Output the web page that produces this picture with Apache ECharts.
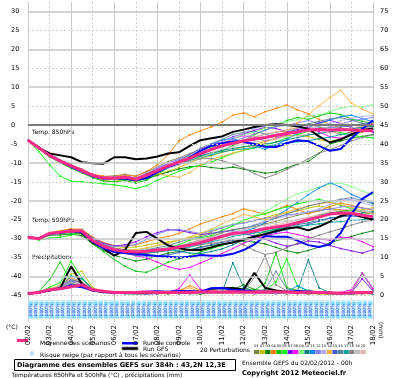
<!DOCTYPE html>
<html><head><meta charset="utf-8">
<script src="https://cdn.jsdelivr.net/npm/echarts@6/dist/echarts.min.js"></script>
<style>html,body{margin:0;padding:0;background:#fff}#c{width:400px;height:378px}</style>
</head><body><div id="c"></div>
<script>
const hours = [0,12,24,36,48,60,72,84,96,108,120,132,144,156,168,180,192,204,216,228,240,252,264,276,288,300,312,324,336,348,360,372,384];
const dayLabels = ['02/02','03/02','04/02','05/02','06/02','07/02','08/02','09/02','10/02','11/02','12/02','13/02','14/02','15/02','16/02','17/02','18/02'];
const leftTicks = [30,25,20,15,10,5,0,-5,-10,-15,-20,-25,-30,-35,-40,-45];
const gridMinor = [25,15,5,-5,-15,-25,-35,-45];
const gridMajor = [30,20,10,-10,-20,-30,-40];

// Temperature 850 hPa (°C)
const t850Mean = [-4,-6,-8,-9.5,-10.8,-12,-13.3,-14,-14,-13.8,-14.3,-13.2,-12,-10.8,-9.8,-8.7,-7.5,-6.5,-5.5,-4.8,-4.2,-3.7,-3.3,-2.7,-2.2,-1.8,-1.3,-1.2,-1.3,-1.2,-1.3,-1.5,-1.4];
const t850Gfs = [-4,-6,-7.5,-8,-8.5,-9.8,-10.1,-10.2,-8.5,-8.5,-9,-8.8,-8.3,-7.5,-7.2,-5.5,-4,-3.5,-3,-1.8,-1.2,-0.5,0,0.2,0,-0.3,-1,-3,-4.6,-3.8,-2.5,-1.3,-0.9];
const t850Ctrl = [-4,-6,-8,-9.5,-11,-12.3,-13.5,-14.2,-14,-14.2,-14.5,-14,-12.5,-11,-10,-8.5,-6.8,-5.5,-4.8,-4.3,-4.5,-5,-5.7,-5.8,-4.8,-4,-4.3,-5.5,-6.8,-6.3,-3.5,-1,1.3];
const t850P01 = [-4,-5.8,-7.6,-9.2,-10.5,-11.6,-13,-13.6,-13.4,-13,-13.5,-12.4,-11,-9.6,-8.7,-7.5,-6.6,-5.9,-5.2,-4.5,-4.1,-3.2,-2.4,-1.9,-1.5,-0.6,0.2,-0.5,-1.4,-2.5,-1.8,-0.9,-0.2];
const t850P02 = [-4,-6.2,-8.3,-9.8,-11.2,-12.5,-13.8,-14.6,-14.9,-14.3,-14.8,-14,-13.1,-12.2,-11.2,-10,-8.8,-8.1,-7.2,-6.5,-5.8,-5.2,-4.3,-3.6,-2.8,-2.6,-3.1,-3.8,-4.4,-3.6,-2.7,-1.9,-1.1];
const t850P03 = [-4,-6.1,-8.2,-9.6,-11,-12.2,-13.6,-14.3,-14.4,-14.3,-14.9,-14.1,-13.3,-12.4,-11.6,-11,-10.8,-11.2,-11.5,-11.1,-11.6,-12.2,-12.7,-12.4,-11.3,-10.3,-9.6,-7.5,-5,-4.2,-3.5,-3,-2.5];
const t850P04 = [-4,-5.9,-7.8,-9.3,-10.4,-11.8,-13,-13.5,-13.6,-13.2,-13.5,-12.2,-10.5,-7.8,-4.2,-2.6,-1.5,-0.5,0.8,2.6,3.2,2.2,3.5,4.4,5.3,4,3,1.5,0.2,-0.8,-1.5,-0.5,0.5];
const t850P05 = [-4,-6.3,-8.4,-10,-11.4,-12.6,-13.9,-14.8,-15,-14.6,-15.3,-14.5,-13,-11.4,-10.2,-9.4,-8.3,-7.5,-6.8,-5.4,-4.2,-2.5,-1.3,-0.2,1.2,2,1.5,2.4,3.2,2.8,1.6,1,0.4];
const t850P06 = [-4,-7,-10.5,-13.5,-14.8,-15,-15.2,-15.5,-15.8,-16.2,-16.8,-16,-14.6,-13.4,-12.2,-11.3,-10.6,-9.8,-8.6,-7.5,-6.7,-6,-5.4,-4.5,-3.4,-2.5,-1.6,-0.8,-1.2,-2,-2.6,-3.1,-3.4];
const t850P07 = [-4,-5.9,-7.9,-9.4,-10.6,-11.8,-13.1,-13.8,-13.9,-13.5,-14,-12.8,-11.4,-10.1,-9,-7.8,-6.4,-5.2,-4.4,-3.1,-2.3,-1.4,-0.6,-0.9,-1.8,-1.2,-0.3,0.6,1.3,0.4,-0.7,-1.5,-1.8];
const t850P08 = [-4,-6,-8.1,-9.7,-11.1,-12.3,-13.5,-14.2,-14.3,-14,-14.5,-13.6,-12.4,-11.2,-10.3,-9.1,-7.9,-6.6,-4.9,-3.6,-2.8,-3.3,-4.2,-3.5,-2.5,-1.6,-0.5,-1.8,-3.1,-3.5,-2.3,-1,0.2];
const t850P09 = [-4,-6.1,-8,-9.5,-10.9,-12.1,-13.4,-14.1,-14.2,-14.1,-14.4,-13.3,-12.1,-10.6,-9.3,-8.1,-6.9,-5.8,-4.6,-3.5,-2.6,-1.8,-0.8,0.3,0.9,1.4,2.3,2.7,3.6,4.5,5,4.8,5.3];
const t850P10 = [-4,-5.7,-7.7,-9.3,-10.7,-11.9,-13.2,-13.9,-13.8,-13.6,-14.1,-13,-11.8,-10.6,-9.7,-8.9,-8.1,-7.3,-6.7,-6.2,-5.7,-5.4,-5,-4.5,-3.9,-3.3,-2.6,-2.2,-1.8,-1.3,-0.9,-0.6,-0.3];
const t850P11 = [-4,-6,-8,-9.6,-10.9,-12.2,-13.4,-14.1,-14.2,-13.9,-14.4,-13.4,-12.1,-10.9,-9.9,-8.4,-6.8,-5.1,-3.9,-3.6,-4.4,-5.5,-6.4,-5.2,-3.8,-2.1,-0.6,0.4,1.3,2.2,2.6,1.7,0.9];
const t850P12 = [-4,-6.2,-8.2,-9.7,-11,-12.2,-13.6,-14.3,-14.2,-13.8,-14.2,-13.1,-11.6,-10.3,-9.4,-8.5,-7.3,-6.4,-5.5,-4.5,-3.4,-2.3,-1.4,-0.4,-0.1,0.6,1.2,0.5,-0.4,0.3,1.1,1.6,2];
const t850P13 = [-4,-5.8,-7.9,-9.4,-10.8,-12,-13.2,-13.8,-13.7,-13.5,-13.9,-12.7,-11.2,-10,-8.9,-7.7,-6.6,-5.5,-4.4,-3.3,-2.1,-0.9,-0.2,0.4,0.2,-0.6,-1.1,-0.4,0.5,1.2,1.8,2.3,2.5];
const t850P14 = [-4,-6.1,-8.2,-9.6,-11,-12.3,-13.5,-14.2,-14.2,-14,-14.7,-13.9,-12.8,-13.4,-13.8,-12.5,-10.6,-9.1,-8.2,-7.4,-6.6,-5.6,-4.6,-3.2,-1.5,0.6,2.8,5.1,7.3,9.2,5.8,4.2,3];
const t850P15 = [-4,-6,-7.9,-9.5,-10.7,-12,-13.2,-13.9,-14.1,-13.9,-14.3,-13.2,-12,-10.9,-9.8,-8.5,-7.2,-6.3,-5.6,-5,-4.4,-3.9,-3.4,-2.9,-2.3,-1.6,-1.2,-0.9,-0.6,-0.5,-0.2,0.3,0.8];
const t850P16 = [-4,-6.2,-8.1,-9.6,-11,-12.2,-13.5,-14.1,-14.1,-13.7,-14.1,-13,-11.9,-10.7,-9.4,-7.8,-6.1,-4.9,-3.8,-2.5,-1.9,-1.6,-2.4,-3.1,-2.2,-0.8,0.3,1,1.6,2,1.3,0.5,-0.5];
const t850P17 = [-4,-6,-8,-9.5,-10.8,-12,-13.3,-14,-14,-13.8,-14.4,-13.4,-12.3,-11.3,-10.4,-9.4,-8.6,-7.9,-7.1,-6.6,-6.3,-5.9,-5.6,-5.2,-4.7,-4.4,-4.1,-3.6,-3.2,-2.5,-2.3,-1.7,-1.1];
const t850P18 = [-4,-5.9,-7.9,-9.4,-10.7,-11.9,-13.2,-13.9,-13.9,-13.6,-14.1,-13,-11.8,-10.9,-10.2,-9.5,-8.9,-8.8,-9.4,-10.2,-11.4,-12.8,-14,-13,-11.7,-10.4,-8.9,-7.4,-6.5,-5.4,-4.2,-3.3,-2.5];
const t850P19 = [-4,-6.1,-8.1,-9.7,-11,-12.3,-13.5,-14.2,-14.2,-14,-14.5,-13.6,-12.5,-11.4,-10.5,-9.6,-8.6,-7.4,-6.4,-5.7,-5,-4.5,-4,-3.6,-3.1,-2.8,-2.2,-1.4,-0.4,0.4,0.2,-0.3,-0.8];
const t850P20 = [-4,-6,-7.9,-9.5,-10.8,-12,-13.3,-14,-14,-13.9,-14.3,-13.3,-12.1,-10.9,-9.8,-8.7,-7.6,-6.5,-5.3,-4.5,-3.7,-3.1,-2.4,-1.9,-1.3,-0.8,-0.4,-1.2,-2.1,-1.6,-0.8,-0.1,0.4];

// Temperature 500 hPa (°C)
const t500Mean = [-29.6,-30,-28.6,-28.3,-28,-28,-30.5,-32,-32.9,-33.3,-33.5,-33.3,-33,-32.8,-32.2,-31.7,-31,-30.2,-29.4,-28.6,-28.4,-28,-27.4,-26.9,-26.5,-25.8,-25,-24.3,-23.5,-23.2,-23.3,-23.8,-24.2];
const t500Gfs = [-29.6,-30,-28.6,-28.3,-27.8,-28.5,-31,-32.5,-34.5,-33,-28.5,-28.2,-30,-31.8,-32.5,-33,-33,-32.3,-31.5,-31,-30.2,-29.5,-28.8,-28,-27.3,-27,-27.8,-26.8,-25.5,-24,-23.3,-24.3,-25];
const t500Ctrl = [-29.6,-30,-28.7,-28.5,-28,-28.3,-30.8,-32.5,-33.5,-33.8,-34,-34.3,-34.6,-34.8,-35,-34.8,-34.3,-34.5,-34.5,-34,-33,-31.5,-29.3,-29.5,-29.5,-30.5,-31.7,-32.2,-31.5,-28.5,-23.5,-19.5,-17.7];
const t500P01 = [-29.6,-30.1,-28.8,-28.5,-28.1,-28.3,-30.7,-32.4,-33.2,-33.6,-34,-33.9,-33.5,-33,-32.1,-31.2,-30.3,-29.5,-28.4,-27.6,-27.2,-26.8,-26.1,-25.4,-24.6,-23.8,-23.2,-22.6,-22.1,-22.4,-23.1,-23.6,-23.2];
const t500P02 = [-29.6,-29.9,-28.5,-28.2,-27.6,-27.6,-29.8,-31.4,-32.1,-32.3,-32.2,-31.7,-31.2,-30.9,-30.3,-29.8,-29.2,-28.2,-27.1,-26.3,-25.8,-25.2,-24.5,-23.6,-23.2,-22.7,-21.9,-21.4,-21.8,-22.5,-23.1,-22.4,-21.8];
const t500P03 = [-29.6,-30.2,-29.1,-29,-28.8,-29.2,-31.4,-33.1,-34.4,-35.2,-35.9,-35.4,-34.6,-33.8,-33.4,-32.9,-32.2,-31.8,-31.4,-31,-30.6,-30.9,-31.4,-32.3,-33.2,-33.8,-33.1,-32.2,-31.1,-30.2,-29.4,-28.6,-27.9];
const t500P04 = [-29.6,-29.9,-28.4,-27.9,-27.4,-27.5,-29.6,-31,-31.8,-32,-31.6,-30.8,-30,-29.4,-28.6,-27.4,-26.1,-25.2,-24.2,-23.4,-22.1,-22.8,-23.6,-22.4,-21.2,-22.3,-23.4,-22.6,-21.5,-20.6,-21.2,-21.8,-22.6];
const t500P05 = [-29.6,-30,-28.7,-28.6,-28.5,-28.8,-31.4,-33.4,-35.5,-37.3,-38.6,-38.9,-37.6,-36.2,-35.3,-34.6,-33.5,-32.6,-31.8,-30.9,-30.3,-29.2,-28.1,-27.4,-26.5,-25.6,-24.7,-23.8,-23.2,-22.8,-22.4,-22.9,-23.5];
const t500P06 = [-29.6,-30.4,-29.8,-29.6,-29.1,-28.4,-30.2,-31.8,-33,-33.8,-34.2,-33.6,-32.8,-32.4,-31.6,-30.4,-29.8,-29.2,-27.8,-26.6,-25.2,-24.1,-23.4,-22.4,-21.6,-20.8,-20.2,-19.6,-20.3,-21.2,-22.1,-22.6,-23.4];
const t500P07 = [-29.6,-30,-28.6,-28.3,-27.9,-27.8,-29.8,-31.2,-31.9,-31.6,-30.8,-29.5,-28.4,-27.6,-27.8,-28.4,-28.9,-28.6,-28.1,-27.9,-28.6,-29.3,-30.1,-31.2,-32,-31.4,-30.6,-30.9,-31.8,-32.6,-33.2,-33.8,-32.9];
const t500P08 = [-29.6,-30.1,-28.6,-28.4,-28.3,-28.5,-31,-32.6,-33.4,-33.8,-34.5,-35.1,-36.2,-37.4,-38.1,-37.6,-36.4,-35.2,-33.9,-32.6,-31.2,-30.1,-29.2,-28.6,-28.3,-28.9,-29.6,-30.1,-30.4,-29.6,-29.8,-30.8,-32.1];
const t500P09 = [-29.6,-29.9,-28.5,-28.1,-27.8,-27.9,-30.1,-31.6,-32.5,-32.9,-33.1,-32.6,-31.9,-31.3,-30.4,-29.6,-28.6,-27.7,-26.9,-26.2,-25.1,-24,-22.8,-21.2,-19.6,-18.1,-17.3,-16.4,-15.6,-15.3,-16.2,-17.4,-18.4];
const t500P10 = [-29.6,-30,-28.7,-28.4,-28.1,-28.1,-30.4,-32,-32.9,-33.5,-33.7,-33.2,-32.6,-32.8,-33.3,-33.8,-33.9,-33.4,-32.7,-31.6,-30.4,-29.5,-28.6,-27.6,-26.9,-26.3,-25.8,-25.1,-24.6,-24.2,-23.8,-23.2,-22.9];
const t500P11 = [-29.6,-30,-28.6,-28.3,-28,-28.1,-30.6,-32.1,-33,-33.3,-33.4,-33.1,-32.8,-32.5,-31.9,-31.6,-30.9,-30.1,-29.5,-28.9,-28.1,-27.2,-25.8,-24.1,-22.3,-20.4,-18.4,-16.6,-15.2,-16.4,-18.3,-19.5,-20.6];
const t500P12 = [-29.6,-30.1,-28.8,-28.4,-28.1,-28.3,-30.3,-31.5,-32,-32,-31.5,-30.2,-28.8,-27.8,-27.5,-28.1,-28.6,-28,-27.1,-26.3,-25.9,-25.2,-24.6,-24.2,-23.7,-23.4,-22.9,-22.5,-22.2,-21.6,-21.4,-21.9,-22.3];
const t500P13 = [-29.6,-30,-28.6,-28.2,-27.9,-27.8,-30,-31.6,-32.6,-33.1,-33.4,-33.5,-33.2,-32.7,-32.3,-31.6,-31,-30.3,-29.6,-28.7,-27.6,-26.4,-25.2,-24.6,-24.1,-23.5,-23,-22.1,-21,-19.8,-19.6,-20.5,-21.3];
const t500P14 = [-29.6,-29.9,-28.5,-28.2,-27.9,-28,-30.4,-31.9,-32.6,-32.8,-32.9,-32.4,-31.8,-31.2,-30.4,-29.5,-28.6,-27.5,-26.1,-24.8,-23.6,-24.2,-25.1,-24.1,-22.9,-22.1,-21.3,-20.8,-20.4,-21,-21.7,-22.6,-23.5];
const t500P15 = [-29.6,-30.1,-28.7,-28.5,-28.2,-28.3,-30.8,-32.3,-33.3,-33.9,-34.4,-34.6,-34.5,-34.3,-33.7,-33,-32.4,-31.6,-31,-30.5,-30.1,-29.6,-28.9,-28.3,-27.6,-26.9,-26.2,-25.4,-24.6,-24.2,-24,-24.3,-24.7];
const t500P16 = [-29.6,-30,-28.6,-28.2,-27.8,-27.7,-29.9,-31.5,-32.5,-33,-33.2,-32.9,-32.4,-31.8,-30.9,-30.1,-29.5,-28.7,-28.2,-27.7,-27.2,-26.5,-25.6,-24.6,-23.5,-22.4,-21.4,-20.7,-20.2,-19.6,-19.2,-19.9,-20.8];
const t500P17 = [-29.6,-30,-28.7,-28.4,-28.1,-28.2,-30.5,-32.1,-33.1,-33.6,-33.9,-33.7,-33.5,-33.2,-32.6,-32.2,-31.6,-30.8,-30.2,-29.4,-28.9,-28.5,-28.1,-27.5,-27.2,-26.8,-26.4,-26.1,-25.7,-25.5,-25.2,-25,-24.7];
const t500P18 = [-29.6,-30,-28.6,-28.3,-28,-28.1,-30.4,-32,-33,-33.4,-33.7,-33.4,-33,-32.6,-32.3,-31.9,-31.6,-31.2,-30.8,-30.3,-31.6,-33.1,-34.2,-33.6,-32.4,-31.2,-30,-29.1,-28.2,-27.4,-26.4,-25.6,-25.1];
const t500P19 = [-29.6,-29.9,-28.5,-28.3,-28,-27.9,-30.2,-31.8,-32.8,-33.2,-33.3,-33,-32.7,-32.4,-31.8,-31.1,-30.4,-29.6,-28.9,-28.2,-27.6,-27,-26.4,-25.8,-25.4,-24.9,-24.4,-23.9,-23.4,-23.1,-22.8,-22.6,-22.4];
const t500P20 = [-29.6,-30.1,-28.7,-28.4,-28.1,-28.2,-30.6,-32.2,-33.1,-33.5,-33.6,-33.4,-33.1,-32.8,-32.3,-31.8,-31.2,-30.5,-29.7,-29,-28.3,-27.6,-26.9,-26.3,-25.8,-25.1,-24.4,-23.6,-22.8,-22.4,-22.2,-22.7,-23.4];

// Precipitation (mm, right axis)
const prMean = [0.5,0.8,1.5,1.8,2.3,2.8,1.5,1.1,0.8,0.8,0.8,0.9,0.8,0.8,0.8,0.8,0.9,1,0.9,1,0.9,0.9,1,0.9,0.9,0.8,0.9,0.8,0.7,0.6,0.7,0.8,0.8];
const prGfs = [0.5,0.8,1.3,2,7.7,3,1.5,1,0.8,0.9,0.8,0.7,0.8,0.9,1,1.1,0.9,1.8,1.9,2,1.6,6,2,1.3,1,0.9,0.8,0.9,0.7,0.6,0.7,0.8,0.8];
const prCtrl = [0.5,0.8,1.4,1.8,2.6,2.2,1.3,1,0.8,0.9,0.9,1,1.1,1,1.2,1.1,1,1.9,2,1.5,1.3,1.1,1,0.9,0.9,1.2,1,0.8,0.7,0.6,0.6,0.7,0.6];
const prP01 = [0.4,0.8,1.6,2.2,4.8,3.1,1.2,0.8,0.5,0.6,0.4,0.5,0.6,0.5,0.7,0.6,0.5,0.8,0.6,0.7,0.9,0.5,0.6,0.8,0.5,0.6,0.4,0.5,0.3,0.4,0.5,0.4,0.6];
const prP02 = [0.5,0.9,1.8,2.6,5.6,6.4,2,1.1,0.7,0.5,0.6,0.8,0.5,0.4,0.6,0.8,1,1.6,0.8,0.6,0.5,0.7,0.9,0.6,0.5,0.8,0.6,0.4,0.5,0.6,0.4,0.5,0.4];
const prP03 = [0.5,0.8,1.4,2,3.1,2.4,1.3,0.9,0.6,0.5,0.4,0.6,0.5,0.7,0.6,0.5,0.4,0.6,0.9,1.5,2.8,1.6,1.2,0.9,0.6,0.5,0.7,0.6,0.4,0.5,0.6,0.8,0.7];
const prP04 = [0.4,0.9,1.5,2.4,3.8,2.6,1.4,1,0.7,0.6,0.8,0.6,0.7,0.9,1.2,2.6,1.4,0.8,0.6,0.5,0.7,0.6,0.8,1.1,0.9,0.6,0.5,0.7,0.6,0.8,0.6,0.9,0.7];
const prP05 = [0.5,1,4.2,8.8,3.6,2.2,1.4,0.8,0.6,0.5,0.6,0.4,0.6,0.5,0.7,0.9,0.6,0.8,1.2,0.9,1.8,1.4,3.2,11.2,2.1,1.3,0.9,0.7,0.5,0.6,0.4,0.6,0.5];
const prP06 = [0.4,0.8,2.2,3.4,9,4.6,1.6,1.1,0.7,0.5,0.4,0.6,0.8,0.6,0.5,0.7,1,0.8,1.1,0.7,1.4,0.9,1.3,3.6,9.6,2.4,1.2,0.8,0.6,0.5,0.7,0.6,0.8];
const prP07 = [0.5,0.8,1.3,1.9,2.8,2.2,1.2,0.8,0.5,0.6,0.5,0.4,0.5,0.6,0.8,0.6,0.9,0.7,0.6,0.8,0.5,0.6,0.7,0.5,0.8,0.6,0.5,0.9,0.7,0.6,0.8,4.4,1.2];
const prP08 = [0.4,0.7,1.5,2.3,3.9,3.4,1.5,1,0.6,0.7,0.5,0.6,0.7,0.8,1.8,5.4,1.6,0.9,0.7,0.6,0.8,0.5,0.6,0.7,0.6,0.5,0.7,0.6,0.5,0.8,1.5,6,1.8];
const prP09 = [0.5,0.9,1.7,2.5,4.4,3,1.3,0.9,0.6,0.5,0.7,0.5,0.6,0.7,0.5,0.8,0.6,1,0.8,2.2,1.5,0.9,1.8,1.1,0.7,0.6,0.8,0.9,0.6,0.7,0.5,0.6,0.8];
const prP10 = [0.4,0.8,1.4,2.1,3.5,4.8,1.6,0.9,0.6,0.6,0.5,0.7,0.5,0.6,0.7,0.5,0.8,0.6,0.9,8.6,2.2,1,0.8,0.7,0.9,1.2,9.4,2,0.8,0.6,0.5,0.7,0.6];
const prP11 = [0.5,0.9,1.6,2.4,4.2,3.3,1.4,1,0.7,0.5,0.6,0.5,0.8,0.6,0.5,0.7,0.6,0.9,0.7,0.8,0.6,0.7,1.1,0.9,0.8,2.6,1.2,0.8,0.6,0.7,0.6,0.5,0.7];
const prP12 = [0.4,0.8,1.5,2.2,3.6,2.8,1.2,0.8,0.6,0.5,0.4,0.6,0.5,0.7,0.6,0.8,0.7,0.6,0.8,0.7,0.9,0.7,0.6,0.8,0.7,0.5,0.6,0.8,0.7,0.5,0.6,0.7,0.5];
const prP13 = [0.5,0.8,1.6,2.3,4,3.2,1.3,0.9,0.7,0.6,0.5,0.6,0.7,0.5,0.6,0.7,0.8,0.7,0.9,0.6,0.8,0.6,0.7,0.9,0.6,0.8,0.7,0.6,0.8,0.6,0.7,0.6,0.8];
const prP14 = [0.4,0.9,1.7,2.8,4.6,3.6,1.8,1.2,0.8,0.6,0.5,0.7,0.6,0.9,1.3,2,1,0.8,0.6,0.7,0.5,0.8,0.6,0.7,0.9,0.7,0.5,0.6,0.4,0.6,0.5,0.7,0.6];
const prP15 = [0.5,0.8,1.4,2,3.3,2.6,1.2,0.8,0.6,0.5,0.6,0.5,0.6,0.7,0.5,0.6,0.7,0.8,0.6,0.9,0.7,0.6,0.8,0.6,0.5,0.7,0.6,0.5,0.7,0.6,0.5,0.6,0.7];
const prP16 = [0.4,0.8,1.6,2.4,4.1,3.5,1.4,0.9,0.6,0.7,0.5,0.6,0.5,0.6,0.8,0.7,0.6,0.9,0.8,1.2,0.9,0.8,1.6,6.4,1.8,0.9,0.7,0.6,0.8,0.7,0.6,0.9,0.8];
const prP17 = [0.5,0.9,1.5,2.2,5.2,4.4,1.6,1,0.7,0.5,0.6,0.7,0.6,0.5,0.7,0.6,0.8,0.6,1,0.8,0.7,0.9,0.8,0.6,0.7,0.9,1.4,0.8,0.6,0.5,0.7,0.6,0.5];
const prP18 = [0.4,0.8,1.6,2.3,4.3,3.2,1.3,0.9,0.6,0.5,0.7,0.6,0.5,0.7,0.6,0.8,0.7,0.6,0.9,0.8,1.1,4.8,10.4,2.8,1.2,0.8,0.6,0.7,0.5,0.6,0.8,5.8,1.4];
const prP19 = [0.5,0.8,1.5,2.1,3.4,2.7,1.2,0.8,0.5,0.6,0.5,0.6,0.7,0.6,0.5,0.6,0.7,0.6,0.8,0.7,0.6,0.8,0.9,0.7,0.6,0.7,0.8,0.6,0.5,0.7,0.6,0.5,0.6];
const prP20 = [0.4,0.9,1.6,2.5,4.5,3.8,1.5,1,0.6,0.5,0.6,0.5,0.6,0.7,0.6,0.8,0.9,0.7,0.6,0.8,0.7,0.6,0.8,0.9,0.7,0.6,0.8,0.7,0.6,0.5,0.8,0.7,0.6];

// Snow risk (% of scenarios), every 6 h
const snowHours = [0,6,12,18,24,30,36,42,48,54,60,66,72,78,84,90,96,102,108,114,120,126,132,138,144,150,156,162,168,174,180,186,192,198,204,210,216,222,228,234,240,246,252,258,264,270,276,282,288,294,300,306,312,318,324,330,336,342,348,354,360,366,372,378];
const snowRisk = [100,100,100,100,100,100,100,100,100,100,100,100,100,100,100,100,100,100,100,100,100,100,100,100,100,100,100,100,100,100,100,100,100,100,100,100,100,100,100,100,100,100,100,100,100,100,100,100,100,100,100,100,100,100,100,100,100,100,100,100,100,100,100,100];

const pertNames = ['01','02','03','04','05','06','07','08','09','10','11','12','13','14','15','16','17','18','19','20'];
const pertColors = ['#808040','#c0c000','#008000','#ff8000','#00c000','#00ff00','#8000ff','#ff00ff','#80ff80','#008080','#0080ff','#8080ff','#b0b0ff','#ffb040','#4060c0','#6080a0','#00a0a0','#808080','#c0c0c0','#e0b0b0'];
const t850P = [t850P01,t850P02,t850P03,t850P04,t850P05,t850P06,t850P07,t850P08,t850P09,t850P10,t850P11,t850P12,t850P13,t850P14,t850P15,t850P16,t850P17,t850P18,t850P19,t850P20];
const t500P = [t500P01,t500P02,t500P03,t500P04,t500P05,t500P06,t500P07,t500P08,t500P09,t500P10,t500P11,t500P12,t500P13,t500P14,t500P15,t500P16,t500P17,t500P18,t500P19,t500P20];
const prP = [prP01,prP02,prP03,prP04,prP05,prP06,prP07,prP08,prP09,prP10,prP11,prP12,prP13,prP14,prP15,prP16,prP17,prP18,prP19,prP20];

const FONT = 'DejaVu Sans';
const pts = arr => hours.map((h, i) => [h, arr[i]]);
const series = [];

series.push({
  type: 'line', data: [], z: 1, silent: true,
  markLine: {
    silent: true, symbol: 'none', animation: false, label: {show: false},
    data: [
      ...gridMinor.map(v => ({yAxis: v, lineStyle: {type: [2, 2], color: '#cfcfcf', width: 1}})),
      ...gridMajor.map(v => ({yAxis: v, lineStyle: {type: 'solid', color: '#c4c4c4', width: 1.5}})),
      {yAxis: 0, lineStyle: {type: 'solid', color: '#7a7a7a', width: 2}}
    ]
  }
});

function pert(arr, c, axis) {
  return {type: 'line', data: pts(arr), yAxisIndex: axis, z: 2, silent: true,
    symbol: 'rect', symbolSize: 1.6, showSymbol: true,
    itemStyle: {color: c}, lineStyle: {color: c, width: 0.9}};
}
for (let k = 0; k < 20; k++) {
  series.push(pert(t850P[k], pertColors[k], 0));
  series.push(pert(t500P[k], pertColors[k], 0));
  series.push(pert(prP[k], pertColors[k], 1));
}
function main(arr, c, w, axis, z) {
  return {type: 'line', data: pts(arr), yAxisIndex: axis, z: z, silent: true,
    showSymbol: false, lineStyle: {color: c, width: w}};
}
[[t850Gfs,0],[t500Gfs,0],[prGfs,1]].forEach(([a,ax]) => series.push(main(a, '#000000', 2, ax, 3)));
[[t850Ctrl,0],[t500Ctrl,0],[prCtrl,1]].forEach(([a,ax]) => series.push(main(a, '#0000ff', 2, ax, 4)));
[[t850Mean,0],[t500Mean,0],[prMean,1]].forEach(([a,ax]) => series.push(main(a, '#ff2a8a', 3, ax, 5)));

// snow risk strip
series.push({
  type: 'custom', z: 6, silent: true, xAxisIndex: 0, yAxisIndex: 0,
  data: snowHours.map((h, i) => [h, snowRisk[i]]),
  renderItem: (params, api) => {
    const x0 = api.coord([api.value(0), 0])[0];
    const x1 = api.coord([api.value(0) + 6, 0])[0];
    const w = x1 - x0;
    return {type: 'group', children: [
      {type: 'rect', shape: {x: x0 + 0.5, y: 300, width: w - 1, height: 19}, style: {fill: '#c6ecff'}},
      {type: 'rect', shape: {x: x0 + 0.5, y: 302, width: w - 1, height: 3}, style: {fill: '#88ddff'}},
      {type: 'rect', shape: {x: x0 + 0.5, y: 315, width: w - 1, height: 3}, style: {fill: '#88ddff'}},
      {type: 'text', x: x0 + w / 2, y: 310, rotation: Math.PI / 2,
        style: {text: api.value(1) + '%', font: '4.5px ' + FONT, fill: '#2040ff', align: 'center', verticalAlign: 'middle'}}
    ]};
  }
});

const graphic = [
  {type: 'text', left: 32, top: 129, style: {text: 'Temp. 850hPa', font: '6px ' + FONT, fill: '#000'}},
  {type: 'text', left: 32, top: 217, style: {text: 'Temp. 500hPa', font: '6px ' + FONT, fill: '#000'}},
  {type: 'text', left: 32, top: 254, style: {text: 'Précipitations', font: '6px ' + FONT, fill: '#000'}},
  {type: 'text', left: 6, top: 324, style: {text: '(°C)', font: '6px ' + FONT, fill: '#000'}},
  {type: 'text', x: 381, y: 322, rotation: -Math.PI / 2, style: {text: '(mm)', font: '6px ' + FONT, fill: '#000', align: 'left', verticalAlign: 'middle'}},
  {type: 'rect', shape: {x: 17, y: 339, width: 11, height: 3}, style: {fill: '#ff2a8a'}},
  {type: 'text', left: 40, top: 340, style: {text: 'Moyenne des scénarios', font: '6px ' + FONT, fill: '#000'}},
  {type: 'rect', shape: {x: 122, y: 342, width: 16, height: 2.5}, style: {fill: '#0000ff'}},
  {type: 'text', left: 143, top: 340, style: {text: 'Run de controle', font: '6px ' + FONT, fill: '#000'}},
  {type: 'rect', shape: {x: 122, y: 347, width: 16, height: 3}, style: {fill: '#000', stroke: '#888', lineWidth: 0.8}},
  {type: 'text', left: 143, top: 346, style: {text: 'Run GFS', font: '6px ' + FONT, fill: '#000'}},
  {type: 'text', left: 29, top: 351, style: {text: '❄', font: '7px ' + FONT, fill: '#80c8ff'}},
  {type: 'text', left: 40, top: 352, style: {text: 'Risque neige (par rapport à tous les scénarios)', font: '6px ' + FONT, fill: '#000'}},
  {type: 'rect', shape: {x: 14.5, y: 359.5, width: 221, height: 11}, style: {fill: 'none', stroke: '#000', lineWidth: 1}},
  {type: 'text', left: 17, top: 362, style: {text: 'Diagramme des ensembles GEFS sur 384h : 43,2N 12,3E', font: 'bold 6.6px ' + FONT, fill: '#000'}},
  {type: 'text', left: 12, top: 372, style: {text: 'Températures 850hPa et 500hPa (°C) , précipitations (mm)', font: '5.8px ' + FONT, fill: '#000'}},
  {type: 'text', left: 200, top: 347, style: {text: '20 Perturbations', font: '6px ' + FONT, fill: '#000'}},
  {type: 'text', left: 242, top: 360, style: {text: 'Ensemble GEFS du 02/02/2012 - 00h', font: '6px ' + FONT, fill: '#000'}},
  {type: 'text', left: 242, top: 370, style: {text: 'Copyright 2012 Meteociel.fr', font: 'bold 6.6px ' + FONT, fill: '#000'}}
];
pertNames.forEach((n, i) => {
  graphic.push({type: 'rect', shape: {x: 254 + i * 5.6, y: 350, width: 5.2, height: 4}, style: {fill: pertColors[i]}});
  graphic.push({type: 'text', x: 256.6 + i * 5.6, y: 346.5, style: {text: n, font: '3.5px ' + FONT, fill: '#000', align: 'center', verticalAlign: 'middle'}});
});

const chart = echarts.init(document.getElementById('c'), null, {renderer: 'canvas'});
chart.setOption({
  animation: false,
  backgroundColor: '#ffffff',
  grid: {left: 28, right: 27, top: 2, bottom: 56, containLabel: false},
  xAxis: [
    {type: 'value', min: 0, max: 384, interval: 24,
      axisLine: {show: false}, axisTick: {show: false},
      axisLabel: {rotate: 90, margin: 3, fontSize: 7, fontFamily: FONT, color: '#000',
        formatter: v => dayLabels[Math.round(v / 24)] || ''},
      splitLine: {show: true, lineStyle: {color: '#d2d2d2', type: [2, 2], width: 1}}},
    {type: 'value', min: 0, max: 384, interval: 48,
      axisLine: {show: false}, axisTick: {show: false}, axisLabel: {show: false},
      splitLine: {show: true, lineStyle: {color: '#cacaca', type: 'solid', width: 1}}}
  ],
  yAxis: [
    {type: 'value', min: -52, max: 32.5, splitNumber: 17, position: 'left',
      axisLine: {show: false}, axisTick: {show: false}, splitLine: {show: false},
      axisLabel: {margin: 17, align: 'left', fontSize: 6.5, fontFamily: FONT, color: '#000',
        formatter: v => (leftTicks.indexOf(v) >= 0 ? String(v) : '')}},
    {type: 'value', min: -7, max: 77.5, splitNumber: 17, position: 'right',
      axisLine: {show: false}, axisTick: {show: false}, splitLine: {show: false},
      axisLabel: {margin: 7, align: 'left', fontSize: 6.5, fontFamily: FONT, color: '#000',
        formatter: v => (v >= 0 && v <= 75 && v % 5 === 0 ? String(v) : '')}}
  ],
  series: series,
  graphic: graphic
});
</script></body></html>
